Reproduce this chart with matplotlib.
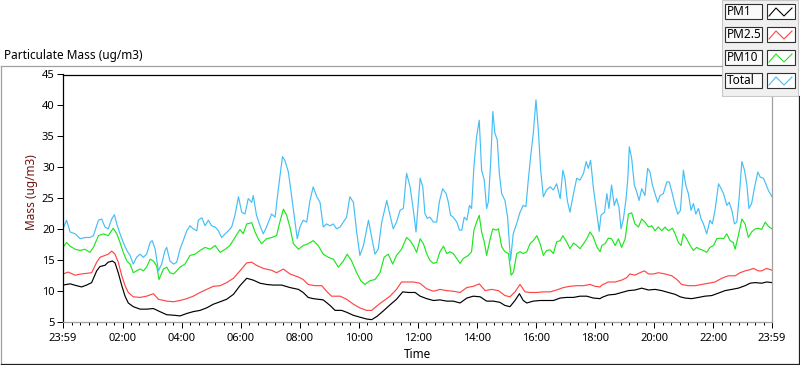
import numpy as np
import matplotlib
matplotlib.use("Agg")
import matplotlib.pyplot as plt
from matplotlib.patches import Rectangle
from matplotlib.lines import Line2D

plt.rcParams['font.family'] = ['Noto Sans', 'DejaVu Sans']

# hours since the 23:59 start of the record
t_pm1 = [0.00, 0.24, 0.46, 0.63, 0.80, 0.97, 1.14, 1.25, 1.42, 1.53, 1.67, 1.76, 1.87, 1.99, 2.10, 2.21, 2.38, 2.61,
         2.83, 3.06, 3.28, 3.51, 3.79, 3.96, 4.19, 4.41, 4.64, 4.86, 5.09, 5.32, 5.54, 5.77, 5.99,
         6.22, 6.44, 6.67, 6.89, 7.12, 7.40, 7.68, 7.97, 8.13, 8.30, 8.47, 8.81, 9.04, 9.21, 9.43, 9.60, 9.83,
         10.05, 10.28, 10.45, 10.62, 10.84, 11.07, 11.29, 11.50, 11.69, 11.92,
         12.09, 12.31, 12.54, 12.76, 12.99, 13.21, 13.44, 13.67, 13.89, 14.12, 14.34, 14.57, 14.79, 14.96, 15.13,
         15.30, 15.45, 15.58, 15.70, 15.92, 16.15, 16.37, 16.60, 16.83, 17.05, 17.28, 17.50, 17.73, 17.95, 18.18,
         18.24, 18.46, 18.69, 18.91, 19.14, 19.36, 19.59, 19.82, 20.04, 20.27, 20.49, 20.72, 20.89, 21.06, 21.28,
         21.51, 21.73, 21.96, 22.19, 22.41, 22.64, 22.86, 23.09, 23.26, 23.43, 23.65, 23.82, 24.00]
pm1 = [10.9, 11.1, 10.8, 10.6, 10.9, 11.3, 13.2, 13.9, 14.1, 14.6, 14.8, 14.5, 12.9, 10.8, 9.1, 8.0, 7.4, 7.0,
       7.0, 7.1, 6.6, 6.1, 6.0, 5.9, 6.3, 6.6, 6.8, 7.2, 7.8, 8.2, 8.6, 9.4, 10.8,
       12.0, 11.7, 11.2, 11.0, 10.9, 10.9, 10.5, 10.2, 9.7, 8.9, 8.7, 8.5, 7.6, 6.8, 6.8, 6.5, 6.0,
       5.7, 5.4, 5.3, 5.8, 6.7, 7.7, 8.6, 9.8, 9.7, 9.7,
       9.1, 8.7, 8.4, 8.5, 8.3, 8.3, 8.0, 8.8, 9.1, 9.0, 8.3, 8.3, 8.1, 7.6, 7.4,
       8.4, 9.5, 8.4, 8.0, 8.3, 8.4, 8.4, 8.4, 8.8, 8.9, 8.9, 9.1, 9.1, 8.8, 8.7,
       8.9, 9.3, 9.4, 9.7, 10.0, 10.1, 10.4, 10.1, 10.2, 10.0, 9.7, 9.4, 9.0, 8.8, 8.7,
       8.9, 9.1, 9.2, 9.6, 10.0, 10.2, 10.4, 10.8, 11.2, 11.3, 11.2, 11.4, 11.3]

t_pm25 = [0.00, 0.18, 0.41, 0.63, 0.97, 1.14, 1.25, 1.42, 1.53, 1.65, 1.76, 1.87, 1.99, 2.10, 2.21, 2.38, 2.61, 2.83,
          3.06, 3.23, 3.51, 3.74, 3.96, 4.19, 4.41, 4.64, 4.86, 5.09, 5.32, 5.54, 5.77, 5.99,
          6.22, 6.39, 6.55, 6.78, 7.06, 7.23, 7.46, 7.68, 7.97, 8.13, 8.30, 8.53, 8.76, 8.92, 9.09, 9.38, 9.60,
          9.83, 10.05, 10.28, 10.45, 10.62, 10.84, 11.07, 11.29, 11.46, 11.63, 11.86, 12.08,
          12.31, 12.54, 12.76, 12.99, 13.21, 13.44, 13.67, 13.89, 14.09, 14.29, 14.51, 14.74, 14.96, 15.13, 15.30,
          15.47, 15.64, 15.81, 16.04, 16.26, 16.49, 16.71, 16.94, 17.16, 17.39, 17.62, 17.84, 18.01, 18.18,
          18.24, 18.46, 18.69, 18.91, 19.08, 19.19, 19.36, 19.53, 19.68, 19.82, 19.99, 20.15, 20.38, 20.61, 20.78,
          20.94, 21.17, 21.40, 21.62, 21.85, 22.07, 22.30, 22.52, 22.75, 22.92, 23.09, 23.26, 23.37, 23.54, 23.65,
          23.82, 24.00]
pm25 = [12.7, 13.0, 12.5, 12.7, 12.9, 14.6, 15.4, 15.7, 15.9, 16.4, 15.9, 14.6, 12.4, 10.8, 9.7, 9.0, 8.9, 9.1,
        9.5, 8.6, 8.3, 8.2, 8.4, 8.7, 9.1, 9.7, 10.2, 10.7, 10.8, 11.3, 12.0, 13.2,
        14.5, 14.6, 14.1, 13.6, 13.3, 12.9, 13.5, 12.7, 12.2, 11.8, 11.0, 10.8, 10.8, 9.9, 9.1, 9.1, 8.6,
        7.8, 7.2, 6.8, 6.8, 7.5, 8.3, 9.1, 10.2, 11.4, 11.4, 11.4, 11.2,
        10.3, 9.9, 10.2, 10.0, 9.9, 9.7, 10.5, 10.7, 11.1, 10.0, 10.2, 10.0, 9.2, 9.0, 9.8,
        11.0, 9.8, 9.7, 9.7, 9.8, 9.8, 10.1, 10.5, 10.7, 10.8, 10.8, 11.0, 10.7, 10.6,
        10.9, 11.4, 11.4, 11.7, 12.1, 12.7, 12.5, 12.9, 13.2, 12.7, 12.7, 12.9, 12.7, 12.4, 11.8,
        11.0, 10.8, 10.8, 11.0, 11.2, 11.4, 12.0, 12.4, 12.4, 12.9, 13.2, 13.4, 13.6, 13.2, 13.2,
        13.6, 13.3]

t_pm10 = [0.00, 0.12, 0.24, 0.41, 0.58, 0.74, 0.91, 1.03, 1.20, 1.37, 1.53, 1.70, 1.82, 1.93, 2.04, 2.16, 2.27, 2.38,
          2.49, 2.61, 2.72, 2.83, 2.95, 3.06, 3.17, 3.25, 3.40, 3.51, 3.62, 3.74, 3.85, 3.96, 4.13, 4.30, 4.47,
          4.64, 4.81, 4.98, 5.15, 5.32, 5.49, 5.65, 5.82, 5.99,
          6.10, 6.22, 6.39, 6.50, 6.61, 6.72, 6.89, 7.06, 7.23, 7.34, 7.46, 7.57, 7.68, 7.80, 7.97, 8.13, 8.30,
          8.47, 8.64, 8.81, 8.98, 9.15, 9.32, 9.49, 9.62, 9.77, 9.94, 10.08, 10.22, 10.39, 10.56, 10.73, 10.87,
          11.01, 11.16, 11.29, 11.46, 11.63, 11.75, 11.86, 11.97,
          12.09, 12.20, 12.31, 12.42, 12.54, 12.65, 12.76, 12.88, 12.99, 13.10, 13.21, 13.33, 13.44, 13.55, 13.72,
          13.83, 13.91, 14.00, 14.09, 14.17, 14.26, 14.34, 14.46, 14.55, 14.66, 14.74, 14.85, 14.96, 15.08, 15.17,
          15.25, 15.36, 15.47, 15.58, 15.70, 15.81, 15.92, 16.04, 16.15, 16.26, 16.37, 16.49, 16.60, 16.71, 16.83,
          16.92, 17.05, 17.16, 17.28, 17.39, 17.50, 17.62, 17.73, 17.84, 17.95, 18.07, 18.18,
          18.24, 18.35, 18.46, 18.57, 18.69, 18.80, 18.91, 19.03, 19.14, 19.25, 19.36, 19.48, 19.59, 19.70, 19.82,
          19.93, 20.04, 20.15, 20.27, 20.38, 20.49, 20.63, 20.72, 20.83, 20.92, 21.00, 21.11, 21.23, 21.34, 21.45,
          21.57, 21.68, 21.79, 21.90, 22.02, 22.13, 22.24, 22.36, 22.47, 22.58, 22.69, 22.75, 22.86, 22.98, 23.09,
          23.20, 23.31, 23.43, 23.54, 23.65, 23.77, 23.88, 24.00]
pm10 = [17.0, 17.8, 17.2, 16.7, 16.5, 16.7, 16.2, 17.0, 18.9, 19.2, 18.9, 20.1, 19.2, 17.8, 16.2, 14.8, 14.3, 12.9,
        13.2, 13.5, 13.2, 13.8, 15.1, 14.8, 14.0, 11.8, 13.5, 13.8, 12.9, 12.7, 13.2, 13.8, 14.3, 15.7, 15.9,
        16.5, 17.0, 16.7, 17.3, 16.2, 16.7, 17.3, 18.6, 19.9,
        19.2, 20.8, 21.0, 19.5, 18.4, 17.6, 18.4, 18.6, 18.9, 21.1, 23.2, 22.2, 20.3, 17.6, 16.7, 17.3, 17.6,
        18.1, 17.3, 15.9, 15.4, 15.1, 13.8, 14.8, 15.9, 14.8, 12.9, 11.6, 11.0, 11.6, 11.8, 12.9, 15.4,
        15.9, 14.3, 15.7, 16.7, 18.6, 18.1, 17.3, 16.2,
        18.4, 17.6, 16.0, 14.9, 14.4, 14.6, 16.3, 17.2, 16.0, 16.3, 16.0, 15.2, 14.4, 15.2, 15.7,
        16.3, 19.8, 21.1, 22.2, 19.5, 17.9, 15.7, 18.4, 20.0, 19.8, 20.0, 17.1, 16.3, 16.0, 12.5,
        13.0, 16.0, 16.3, 16.0, 16.3, 17.6, 18.1, 18.9, 17.6, 15.7, 16.5, 16.6, 16.0, 17.9, 18.1,
        18.9, 17.9, 16.8, 17.7, 17.3, 16.8, 17.6, 18.4, 19.5, 18.7, 17.1, 16.3,
        17.3, 17.6, 18.5, 18.4, 17.3, 18.4, 17.0, 18.4, 22.4, 22.6, 20.8, 20.3, 21.6, 21.1, 20.3,
        20.5, 19.7, 20.3, 19.7, 20.3, 19.7, 20.1, 19.2, 17.8, 17.3, 19.2, 18.4, 17.3, 16.5, 17.0,
        16.7, 16.5, 16.2, 17.0, 17.3, 18.4, 18.5, 18.4, 19.2, 18.1, 17.8, 16.7, 18.9, 21.6, 20.8,
        18.6, 19.5, 20.0, 20.1, 19.9, 21.1, 20.4, 20.0]

t_total = [0.00, 0.12, 0.24, 0.41, 0.58, 0.74, 0.91, 1.03, 1.20, 1.31, 1.42, 1.53, 1.65, 1.74, 1.82, 1.93, 2.04, 2.16,
           2.27, 2.38, 2.49, 2.61, 2.72, 2.83, 2.95, 3.02, 3.12, 3.23, 3.34, 3.45, 3.51, 3.62, 3.74, 3.85, 3.96,
           4.07, 4.19, 4.30, 4.41, 4.53, 4.58, 4.70, 4.81, 4.92, 5.03, 5.15, 5.26, 5.37, 5.49, 5.60, 5.71, 5.82, 5.94,
           6.05, 6.16, 6.27, 6.39, 6.44, 6.55, 6.67, 6.78, 6.89, 7.06, 7.18, 7.25, 7.34, 7.43, 7.51, 7.63, 7.74,
           7.85, 7.93, 8.02, 8.13, 8.25, 8.36, 8.47, 8.59, 8.70, 8.81, 8.92, 9.04, 9.15, 9.26, 9.38, 9.49, 9.60,
           9.71, 9.83, 9.94, 10.05, 10.17, 10.34, 10.45, 10.56, 10.67, 10.79, 10.96, 11.07, 11.18, 11.29, 11.41,
           11.52, 11.63, 11.75, 11.86, 11.95,
           12.09, 12.18, 12.25, 12.33, 12.42, 12.54, 12.65, 12.74, 12.85, 12.97, 13.04, 13.12, 13.21, 13.33, 13.42,
           13.50, 13.58, 13.67, 13.76, 13.83, 13.91, 14.00, 14.09, 14.17, 14.26, 14.34, 14.40, 14.48, 14.55, 14.62,
           14.70, 14.77, 14.85, 14.96, 15.05, 15.15, 15.24, 15.36, 15.47, 15.58, 15.67, 15.75, 15.83, 15.92, 16.01,
           16.09, 16.17, 16.26, 16.37, 16.49, 16.60, 16.71, 16.83, 16.92, 16.99, 17.07, 17.16, 17.28, 17.39, 17.50,
           17.62, 17.71, 17.78, 17.86, 17.95, 18.04, 18.15,
           18.21, 18.33, 18.41, 18.48, 18.57, 18.66, 18.74, 18.82, 18.89, 18.97, 19.06, 19.12, 19.17, 19.25, 19.34,
           19.42, 19.50, 19.59, 19.70, 19.79, 19.87, 19.95, 20.04, 20.13, 20.21, 20.32, 20.44, 20.52, 20.61, 20.72,
           20.81, 20.90, 21.00, 21.08, 21.17, 21.26, 21.34, 21.42, 21.51, 21.60, 21.68, 21.79, 21.90, 21.98, 22.07,
           22.19, 22.28, 22.36, 22.47, 22.55, 22.64, 22.73, 22.81, 22.89, 22.98, 23.07, 23.15, 23.22, 23.31, 23.40,
           23.52, 23.60, 23.71, 23.79, 23.88, 24.00]
total = [20.0, 21.4, 19.5, 19.2, 18.4, 18.6, 18.6, 18.9, 21.4, 21.6, 20.3, 20.0, 21.6, 22.3, 20.8, 19.2, 17.8, 16.5,
         15.7, 14.3, 15.4, 15.9, 15.4, 15.9, 17.8, 18.1, 16.7, 13.2, 14.3, 16.5, 17.0, 14.8, 14.3, 14.6, 16.7,
         18.1, 19.7, 20.5, 20.0, 19.7, 21.4, 21.8, 20.5, 21.4, 20.5, 20.3, 19.7, 18.6, 19.2, 19.7, 20.3, 22.2, 25.2,
         22.7, 22.4, 24.9, 24.3, 25.4, 22.2, 20.5, 19.2, 20.3, 22.4, 21.9, 24.9, 28.4, 31.7, 31.1, 29.2, 25.2,
         21.1, 18.4, 20.3, 21.4, 21.1, 24.6, 26.8, 25.2, 24.3, 20.3, 20.8, 20.5, 20.8, 20.0, 20.3, 21.1, 21.9,
         25.2, 24.3, 19.5, 15.7, 17.3, 21.4, 18.6, 15.9, 16.7, 21.1, 24.6, 22.2, 20.0, 21.1, 23.0,
         23.3, 29.0, 26.8, 23.0, 19.5,
         28.2, 26.8, 22.5, 21.7, 21.9, 21.1, 21.1, 24.4, 26.5, 25.7, 24.4, 22.2, 21.9, 21.1, 19.8,
         19.8, 21.9, 21.4, 23.8, 23.3, 30.1, 34.9, 37.6, 29.5, 27.9, 23.3, 24.4, 31.1, 39.0, 35.5,
         34.4, 29.0, 25.7, 24.6, 21.9, 14.9, 19.2, 20.9, 22.7, 23.8, 23.6, 27.9, 31.7, 35.5, 40.9,
         36.0, 29.5, 25.2, 26.3, 26.8, 26.3, 27.3, 24.9, 29.5, 28.2, 24.6, 22.7, 25.7, 28.2, 27.9,
         29.0, 30.9, 29.8, 31.1, 26.8, 23.6, 19.6,
         22.2, 22.7, 25.7, 23.3, 27.1, 23.8, 24.9, 23.5, 20.0, 21.6, 24.9, 28.2, 33.3, 31.4, 27.1,
         26.0, 24.6, 26.5, 25.4, 29.8, 29.2, 27.1, 25.7, 24.3, 25.4, 25.7, 27.6, 27.6, 26.0, 23.8,
         22.4, 23.0, 29.5, 27.1, 25.7, 23.0, 24.1, 22.4, 23.3, 21.6, 20.8, 19.2, 21.4, 20.8, 23.0,
         27.3, 26.5, 25.7, 23.8, 24.3, 23.0, 20.8, 21.1, 25.2, 30.9, 29.5, 27.1, 23.3, 24.1, 26.5,
         29.2, 28.4, 28.2, 27.3, 26.2, 25.2]

names = ["PM1", "PM2.5", "PM10", "Total"]
colors = ["#000000", "#ff4646", "#1ee61e", "#46bef5"]
times = [t_pm1, t_pm25, t_pm10, t_total]
values = [pm1, pm25, pm10, total]

W, H = 800, 365
fig = plt.figure(figsize=(W / 100, H / 100), dpi=100)

# plot area (pixel box 63..772 x 74.5..321.5)
ax = fig.add_axes([63 / W, 1 - 321.5 / H, (772 - 63) / W, (321.5 - 74.5) / H])
for t, v, c in zip(times, values, colors):
    ax.plot(t, v, color=c, lw=0.85)

ax.set_xlim(0, 24)
ax.set_ylim(5, 45)
ax.set_yticks(range(5, 50, 5))

major = [0] + [2 * k + 1 / 60 for k in range(1, 12)] + [24]
labels = ["23:59"] + [f"{2 * k:02d}:00" for k in range(1, 12)] + ["23:59"]
ax.set_xticks(major)
ax.set_xticklabels(labels)
minor = []
for a, b in zip(major[:-1], major[1:]):
    minor += list(np.linspace(a, b, 8)[1:-1])
ax.set_xticks(minor, minor=True)
ax.tick_params(axis="both", which="major", direction="out", length=4, width=0.72,
               labelsize=8, pad=2, colors="#000000")
ax.tick_params(axis="x", which="major", pad=4)
ax.tick_params(axis="x", which="minor", direction="out", length=2.5, width=0.72)

ax.spines["top"].set_color("#000000")
ax.spines["left"].set_color("#000000")
ax.spines["bottom"].set_color("#a0a0a0")
ax.spines["right"].set_color("#a0a0a0")
for s in ax.spines.values():
    s.set_linewidth(0.9)

fig.text(4 / W, 1 - 55 / H, "Particulate Mass (ug/m3)", fontsize=8.5, va="center", ha="left")
fig.text(31 / W, 1 - 192 / H, "Mass (ug/m3)", fontsize=8.5, rotation=90,
         va="center", ha="center", color="#6e1414")
fig.text(417 / W, 1 - 354 / H, "Time", fontsize=8.5, va="center", ha="center")

# outer frame of the graph control
def fline(x0, y0, x1, y1, color):
    fig.add_artist(Line2D([x0 / W, x1 / W], [1 - y0 / H, 1 - y1 / H], color=color, lw=0.9))

fline(0.5, 65.5, 722, 65.5, "#a0a0a0")
fline(0.5, 65.5, 0.5, 363.5, "#a0a0a0")
fline(0.5, 363.5, 799, 363.5, "#202020")
fline(798.5, 96, 798.5, 363.5, "#202020")

# plot legend panel
lax = fig.add_axes([722 / W, 1 - 97 / H, 78 / W, 97 / H])
lax.set_xlim(722, 800)
lax.set_ylim(97, 0)
lax.axis("off")
lax.add_patch(Rectangle((722, 0), 76, 96, facecolor="#f0f0f0", edgecolor="#c8c8c8", lw=0.8))
for i, (name, c) in enumerate(zip(names, colors)):
    y0 = 4 + 23 * i
    lax.add_patch(Rectangle((725, y0), 37, 15, facecolor="#fafafa", edgecolor="#303030", lw=0.8))
    lax.text(727, y0 + 7.8, name, fontsize=8.5, va="center", ha="left")
    lax.add_patch(Rectangle((767, y0), 28, 15, facecolor="#ffffff", edgecolor="#303030", lw=0.8))
    lax.plot([769, 776, 784, 792], [y0 + 12, y0 + 4, y0 + 12, y0 + 4], color=c, lw=0.8)

fig.savefig("out.png", dpi=100)
